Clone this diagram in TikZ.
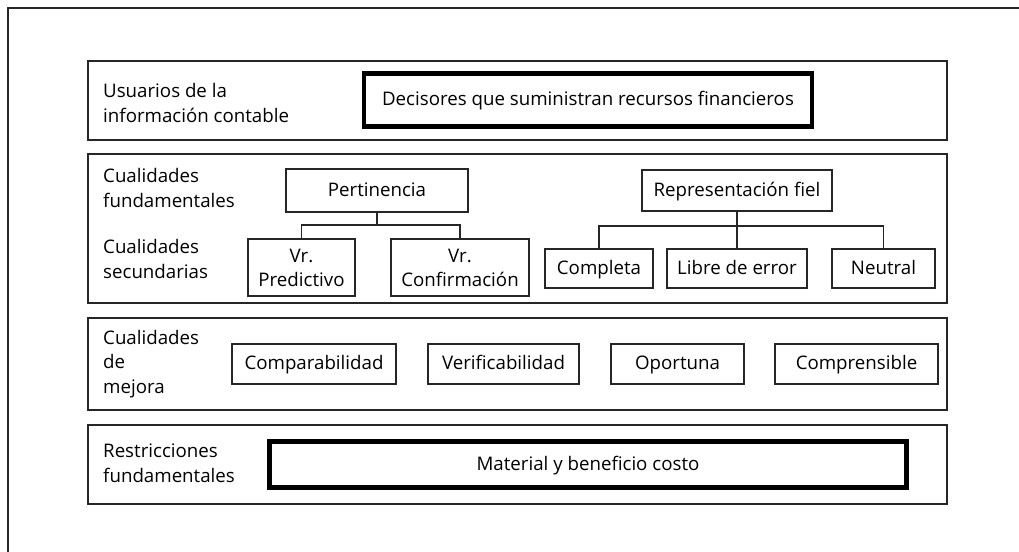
\documentclass[tikz,border=0pt]{standalone}
\usepackage{fontspec}
\setmainfont{Open Sans}
\begin{document}
\begin{tikzpicture}[x=1pt,y=-1pt,
  thin/.style={draw=black!85,line width=1.1pt},
  panel/.style={thin},
  qbox/.style={thin,rectangle,inner sep=0pt,align=center,font=\fontsize{18.7}{24}\selectfont},
  one/.style={text height=14pt,text depth=2.5pt},
  heavy/.style={draw=black,line width=4.5pt,rectangle,inner sep=0pt,align=center,font=\fontsize{18.7}{23}\selectfont,one},
  lbl/.style={anchor=west,align=left,inner sep=0pt,font=\fontsize{18.7}{24.5}\selectfont},
  link/.style={draw=black!85,line width=1.1pt}]
\useasboundingbox (0,0) rectangle (1019,551);
\begin{scope}
\clip (0,0) rectangle (1019,551);
\draw[thin] (8,600) -- (8,8) -- (1100,8);
\end{scope}
% panels
\draw[panel] (88,61) rectangle (947,140);
\draw[panel] (88,154) rectangle (947,303);
\draw[panel] (88,318) rectangle (947,410);
\draw[panel] (88,425) rectangle (947,504);
% labels
\node[lbl] (l1) at (103,103) {Usuarios de la\\información contable};
\node[lbl] (l2a) at (103,188) {Cualidades\\fundamentales};
\node[lbl] (l2b) at (103,259) {Cualidades\\secundarias};
\node[lbl] (l3) at (103,364) {Cualidades\\de\\mejora};
\node[lbl] (l4) at (103,463) {Restricciones\\fundamentales};
% heavy boxes
\node[heavy,minimum width=448pt,minimum height=53pt] (dec) at (588,100) {Decisores que suministran recursos financieros};
\node[heavy,minimum width=637pt,minimum height=46pt] (mat) at (588,464.5) {Material y beneficio costo};
% panel 2
\node[qbox,one,minimum width=182pt,minimum height=43pt] (per) at (377,190.5) {Pertinencia};
\node[qbox,minimum width=107pt,minimum height=57pt] (pre) at (301.5,267.5) {Vr.\\Predictivo};
\node[qbox,minimum width=138pt,minimum height=57pt] (con) at (460,267.5) {Vr.\\Confirmación};
\node[qbox,one,minimum width=190pt,minimum height=41pt] (rep) at (737,190.5) {Representación fiel};
\node[qbox,one,minimum width=108pt,minimum height=39pt] (com) at (599,268.5) {Completa};
\node[qbox,one,minimum width=140pt,minimum height=39pt] (lib) at (737,268.5) {Libre de error};
\node[qbox,one,minimum width=103pt,minimum height=39pt] (neu) at (883.5,268.5) {Neutral};
\coordinate (pj) at (377,225);
\coordinate (rj) at (737,226);
\draw[link] (per.south) -- (pj);
\draw[link] (pre.north) |- (pj) -| (con.north);
\draw[link] (rep.south) -- (lib.north);
\draw[link] (com.north) |- (rj) -| (neu.north);
% panel 3
\node[qbox,one,minimum width=164pt,minimum height=40pt] (cmp) at (314,364) {Comparabilidad};
\node[qbox,one,minimum width=151pt,minimum height=40pt] (ver) at (503.5,364) {Verificabilidad};
\node[qbox,one,minimum width=133pt,minimum height=40pt] (opo) at (677.5,364) {Oportuna};
\node[qbox,one,minimum width=163pt,minimum height=40pt] (cpr) at (856.5,364) {Comprensible};
\end{tikzpicture}
\end{document}
